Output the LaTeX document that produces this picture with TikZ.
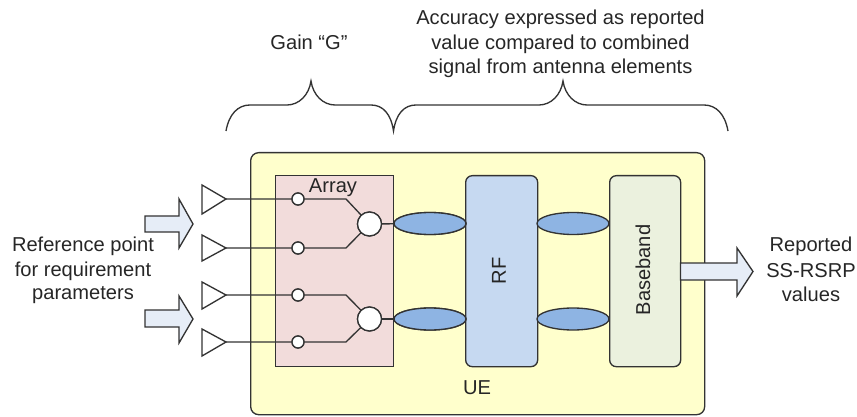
\documentclass[tikz,border=0pt]{standalone}
\usepackage{fontspec}
\setmainfont{Liberation Sans}
\definecolor{ln}{HTML}{333333}
\definecolor{tx}{HTML}{262626}
\definecolor{uefill}{HTML}{FFFFCC}
\definecolor{arrfill}{HTML}{F2DCDB}
\definecolor{rffill}{HTML}{C6D9F1}
\definecolor{bbfill}{HTML}{EBF1DE}
\definecolor{elfill}{HTML}{8EB4E3}
\definecolor{blkfill}{HTML}{E6EDF7}
\tikzset{
 px/.style={x=0.75pt,y=-0.75pt},
 wire/.style={draw=ln,line width=1pt},
 txt/.style={font=\fontsize{12}{14.4}\selectfont,text=tx,inner sep=0pt,align=center,scale=1.257},
 boxx/.style={draw=ln,line width=1pt,anchor=north west,inner sep=0pt},
 small/.style={circle,draw=ln,line width=1pt,fill=white,minimum size=9pt,inner sep=0pt},
 big/.style={circle,draw=ln,line width=1pt,fill=white,minimum size=18pt,inner sep=0pt},
 lens/.style={ellipse,draw=ln,line width=1pt,fill=elfill,minimum width=54pt,minimum height=16.5pt,inner sep=0pt},
 tri/.style={draw=ln,line width=1pt,fill=white,line join=miter},
 blk/.style={draw=ln,line width=1pt,fill=blkfill,line join=miter},
 brace/.style={draw=ln,line width=1pt,line cap=butt},
}
\usetikzlibrary{shapes.geometric}
\begin{document}
\begin{tikzpicture}[px]
\useasboundingbox (0,0) rectangle (857,417);
% containers
\node[boxx,fill=uefill,rounded corners=6pt,minimum width=340.5pt,minimum height=196.5pt] (ue) at (250,152) {};
\node[boxx,fill=arrfill,minimum width=88.5pt,minimum height=143.25pt] (array) at (275,175) {};
\node[boxx,fill=rffill,rounded corners=5pt,minimum width=54pt,minimum height=143.25pt] (rf) at (465,175) {};
\node[boxx,fill=bbfill,rounded corners=5pt,minimum width=53.25pt,minimum height=143.25pt] (bb) at (609,175) {};
% named points
\coordinate (t1) at (226,199);
\coordinate (t2) at (226,248);
\coordinate (t3) at (226,295);
\coordinate (t4) at (226,342);
\coordinate (k1) at (346,199);
\coordinate (k2) at (346,248);
\coordinate (k3) at (346,295);
\coordinate (k4) at (346,342);
\node[small] (s1) at (298,199) {};
\node[small] (s2) at (298,248) {};
\node[small] (s3) at (298,295) {};
\node[small] (s4) at (298,342) {};
\node[big] (c1) at (369.5,224) {};
\node[big] (c2) at (369.5,319) {};
\node[lens] (e1) at (430,223.5) {};
\node[lens] (e2) at (430,319) {};
\node[lens] (e3) at (573,223.5) {};
\node[lens] (e4) at (573,319) {};
% wires
\draw[wire] (t1) -- (s1) -- (k1) -- (c1);
\draw[wire] (t2) -- (s2) -- (k2) -- (c1);
\draw[wire] (t3) -- (s3) -- (k3) -- (c2);
\draw[wire] (t4) -- (s4) -- (k4) -- (c2);
\draw[wire] (c1) -- (e1);
\draw[wire] (c2) -- (e2);
% redraw on top of the wires
\node[small] at (s1) {};
\node[small] at (s2) {};
\node[small] at (s3) {};
\node[small] at (s4) {};
\node[big] at (c1) {};
\node[big] at (c2) {};
\node[lens] at (e1) {};
\node[lens] at (e2) {};
% antennas
\draw[tri] (202,185) -- (t1) -- (202,214) -- cycle;
\draw[tri] (202,235) -- (t2) -- (202,261) -- cycle;
\draw[tri] (202,282) -- (t3) -- (202,309) -- cycle;
\draw[tri] (202,329) -- (t4) -- (202,356) -- cycle;
% block arrows
\draw[blk] (145,216) -- (179,216) -- (179,199) -- (193,224) -- (179,248) -- (179,232) -- (145,232) -- cycle;
\draw[blk] (145,310) -- (179,310) -- (179,296) -- (193,319) -- (179,343) -- (179,327) -- (145,327) -- cycle;
\draw[blk] (680.5,263) -- (737,263) -- (737,248) -- (753,271.5) -- (737,296) -- (737,280) -- (680.5,280) -- cycle;
% braces
\draw[brace] (226,131) .. controls (229,114) and (238,105) .. (250,105) -- (287,105) .. controls (299,105) and (309,95) .. (311,81) .. controls (313,95) and (323,105) .. (335,105) -- (371,105) .. controls (383,105) and (391,114) .. (393.5,131) .. controls (396,114) and (404,105) .. (416,105) -- (539,105) .. controls (551,105) and (561,95) .. (563,81) .. controls (565,95) and (575,105) .. (587,105) -- (704,105) .. controls (716,105) and (725,114) .. (728,131);
% labels
\node[txt] (larr) at (333,188) {Array};
\node[txt] (lue) at (477,388) {UE};
\node[txt,rotate=90] (lrf) at (499,271) {RF};
\node[txt,rotate=90] (lbb) at (643,270) {Baseband};
\node[txt] (lgain) at (309,42.5) {Gain “G”};
\node[txt] (lacc1) at (560.5,19.5) {Accuracy expressed as reported};
\node[txt] (lacc2) at (560.5,44) {value compared to combined};
\node[txt] (lacc3) at (560.5,68.5) {signal from antenna elements};
\node[txt] (lref1) at (83,246.5) {Reference point};
\node[txt] (lref2) at (83,271) {for requirement};
\node[txt] (lref3) at (83,295.5) {parameters};
\node[txt] (lrep1) at (811,246.5) {Reported};
\node[txt] (lrep2) at (811,270.5) {SS-RSRP};
\node[txt] (lrep3) at (811,294.5) {values};
\end{tikzpicture}
\end{document}
